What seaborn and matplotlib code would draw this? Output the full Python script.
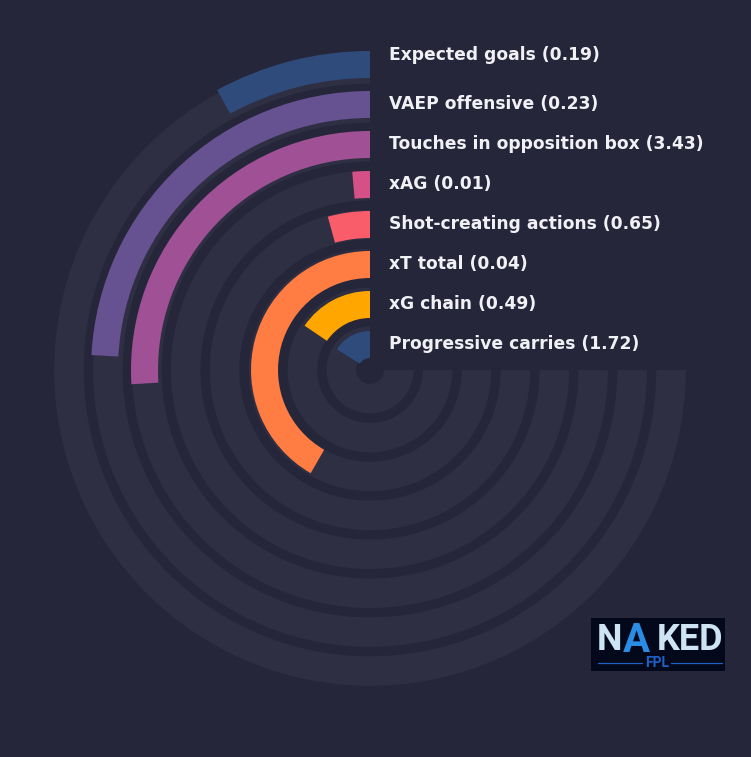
import numpy as np
import pandas as pd
import matplotlib
matplotlib.use("Agg")
import matplotlib.pyplot as plt
import matplotlib.transforms as mtransforms
import seaborn as sns

# metrics listed from the inner ring outwards
metrics = ["Progressive carries", "xG chain", "xT total", "Shot-creating actions",
           "xAG", "Touches in opposition box", "VAEP offensive", "Expected goals"]
raw_values = [1.72, 0.49, 0.04, 0.65, 0.01, 3.43, 0.23, 0.19]
percentiles = [21.5, 20.7, 55.6, 5.7, 1.9, 34.6, 32.2, 10.6]
bar_colors = ["#2f4b7c", "#ffa600", "#ff7c43", "#f95d6a",
              "#d45087", "#a05195", "#665191", "#2f4b7c"]

BG = "#252639"
TRACK = "#2e2f42"
TEXT = "#f0f0f5"

sns.set_theme(style="dark", rc={"figure.facecolor": BG, "axes.facecolor": BG})
plt.rcParams["font.family"] = ["DejaVu Sans"]

df = pd.DataFrame({"metric": metrics, "value": raw_values,
                   "pct": percentiles, "color": bar_colors})
df["ring"] = np.arange(len(df))
df["theta"] = np.deg2rad(df["pct"] / 100 * 270)
df["label"] = df["metric"] + " (" + df["value"].map("{:.2f}".format) + ")"

fig = plt.figure(figsize=(7.51, 7.57), dpi=100)
fig.patch.set_facecolor(BG)

R = 330
ax = fig.add_axes([(370 - R) / 751, (757 - 370 - R) / 757, 2 * R / 751, 2 * R / 757],
                  projection="polar")
ax.set_theta_zero_location("N")
ax.set_theta_direction(1)
ax.set_ylim(0, R)
ax.set_axis_off()

bar_bottom = 12 + 40 * df["ring"]
bar_h = 27
track_bottom = 14 + 38.9 * df["ring"]

# background tracks, three quarters of a turn
ax.bar(np.zeros(len(df)), 29.5, width=np.deg2rad(270), bottom=track_bottom,
       align="edge", color=TRACK, linewidth=0, zorder=1)
# value bars
ax.bar(np.zeros(len(df)), bar_h, width=df["theta"], bottom=bar_bottom,
       align="edge", color=df["color"], linewidth=0, zorder=2)

# labels to the right of the 12 o'clock line
label_r = bar_bottom + bar_h / 2 + 0.5
label_r.iloc[-1] += 9  # outermost label sits a bit higher
shift = mtransforms.offset_copy(ax.transData, fig=fig, x=19, y=0, units="dots")
for r, lab in zip(label_r, df["label"]):
    ax.text(0, r, lab, transform=shift, ha="left", va="center",
            color=TEXT, fontsize=12.3, fontweight="bold", zorder=3)

# logo box
lax = fig.add_axes([591 / 751, (757 - 671) / 757, 134 / 751, 53 / 757])
lax.set_facecolor("#03081a")
lax.set_xlim(0, 1)
lax.set_ylim(0, 1)
lax.set_xticks([])
lax.set_yticks([])
for s in lax.spines.values():
    s.set_visible(False)
logo_font = ["Roboto", "DejaVu Sans"]
lax.text(0.04, 0.40, "N", color="#cde4f4", fontsize=26, fontweight="bold",
         family=logo_font, ha="left", va="baseline")
lax.text(0.235, 0.36, "A", color="#2b8ce6", fontsize=29, fontweight="bold",
         family=logo_font, ha="left", va="baseline")
lax.text(0.49, 0.40, "KED", color="#cde4f4", fontsize=26, fontweight="bold",
         family=logo_font, ha="left", va="baseline")
lax.text(0.49, 0.16, "FPL", color="#1e62c8", fontsize=10, fontweight="bold",
         family=logo_font, ha="center", va="center")
lax.plot([0.05, 0.38], [0.157, 0.157], color="#1e62c8", lw=0.9)
lax.plot([0.60, 0.98], [0.157, 0.157], color="#1e62c8", lw=0.9)

fig.savefig("out.png", dpi=100, facecolor=BG)
